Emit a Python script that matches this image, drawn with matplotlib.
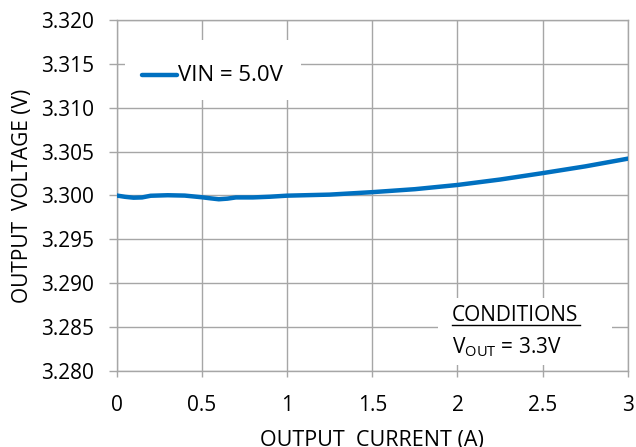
import numpy as np
import matplotlib
matplotlib.use("Agg")
import matplotlib.pyplot as plt
from matplotlib.lines import Line2D

plt.rcParams['font.family'] = ['Open Sans', 'DejaVu Sans']
plt.rcParams['mathtext.fontset'] = 'custom'
plt.rcParams['mathtext.rm'] = 'Open Sans'

# load regulation curve
current = [0, 0.05, 0.1, 0.15, 0.2, 0.3, 0.4, 0.5, 0.55, 0.6, 0.65, 0.7, 0.8,
           0.9, 1.0, 1.25, 1.5, 1.75, 2.0, 2.25, 2.5, 2.75, 3.0]
vout = [3.3000, 3.29985, 3.29975, 3.29978, 3.29997, 3.30003, 3.29999, 3.29980,
        3.29968, 3.29957, 3.29964, 3.29978, 3.29978, 3.29986, 3.29998, 3.30010,
        3.30038, 3.30072, 3.30120, 3.30182, 3.30255, 3.30332, 3.30420]
series_label = "VIN = 5.0V"

x_ticks = [0, 0.5, 1, 1.5, 2, 2.5, 3]
x_ticklabels = ["0", "0.5", "1", "1.5", "2", "2.5", "3"]
y_ticks = [3.280, 3.285, 3.290, 3.295, 3.300, 3.305, 3.310, 3.315, 3.320]

blue = "#0070C0"
grid = "#A6A6A6"
fs = 15

fig = plt.figure(figsize=(6.36, 4.47), dpi=100)
ax = fig.add_axes([0.1832, 0.170, 0.8042, 0.7853])

ax.plot(current, vout, color=blue, lw=3.2, solid_capstyle='round', zorder=3)

ax.set_xlim(0, 3)
ax.set_ylim(3.280, 3.320)
ax.set_xticks(x_ticks)
ax.set_xticklabels(x_ticklabels)
ax.set_yticks(y_ticks)
ax.set_yticklabels(["%.3f" % v for v in y_ticks])
ax.grid(True, color=grid, lw=1.0)
ax.set_axisbelow(True)
for s in ax.spines.values():
    s.set_color(grid)
    s.set_linewidth(1.0)
ax.tick_params(direction='out', width=1, color=grid,
               labelsize=fs, labelcolor='black')
ax.tick_params(axis='y', length=6, pad=10)
ax.tick_params(axis='x', length=4, pad=13)

ax.set_xlabel("OUTPUT  CURRENT (A)", fontsize=15.5, labelpad=10)
ax.set_ylabel("OUTPUT  VOLTAGE (V)", fontsize=fs, labelpad=6)

# legend box (white, no frame)
leg_bg = plt.Rectangle((0.016, 0.772), 0.345, 0.17, transform=ax.transAxes,
                       facecolor='white', edgecolor='none', zorder=2)
ax.add_patch(leg_bg)
ax.add_line(Line2D([0.049, 0.119], [0.843, 0.843], transform=ax.transAxes,
                   color=blue, lw=3.2, solid_capstyle='round', zorder=4))
ax.text(0.120, 0.843, series_label, transform=ax.transAxes, fontsize=16,
        va='center', ha='left', zorder=4)

# conditions box
cond_bg = plt.Rectangle((0.6285, 0.017), 0.340, 0.19, transform=ax.transAxes,
                        facecolor='white', edgecolor='none', zorder=2)
ax.add_patch(cond_bg)
ax.text(0.656, 0.157, "CONDITIONS", transform=ax.transAxes, fontsize=fs,
        va='center', ha='left', zorder=4)
ax.add_line(Line2D([0.656, 0.906], [0.131, 0.131], transform=ax.transAxes,
                   color='black', lw=1.0, zorder=4))
ax.text(0.656, 0.068, r"V$_{\mathrm{OUT}}$ = 3.3V", transform=ax.transAxes,
        fontsize=fs, va='center', ha='left', zorder=4)

fig.savefig("out.png", dpi=100)
